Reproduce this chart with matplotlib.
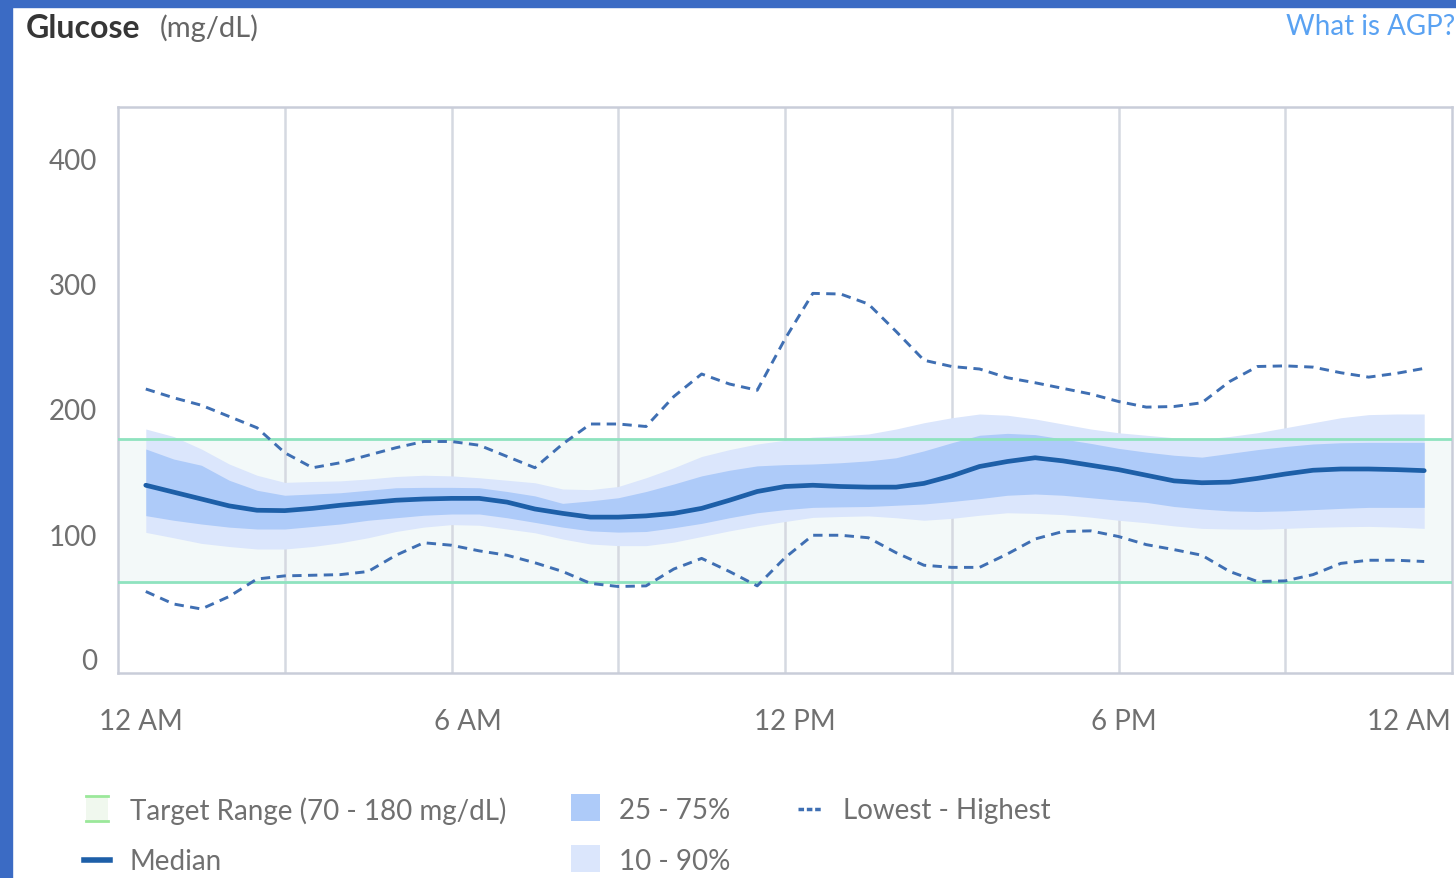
import matplotlib
matplotlib.use("Agg")
import matplotlib.pyplot as plt
import matplotlib.transforms as mtransforms
from matplotlib.patches import Rectangle
from matplotlib.lines import Line2D
import numpy as np

plt.rcParams['font.family'] = ['Lato', 'DejaVu Sans']

# hours of the day (half-hour steps)
hours = np.arange(0.5, 24.0, 0.5)

highest = [216, 209, 203, 194, 185, 165, 153, 157, 163, 169, 174, 174, 171, 162, 153, 172,
           188, 188, 186, 210, 228, 220, 215, 256, 292.5, 292, 284, 262, 239, 234, 232, 225,
           221, 216.5, 212, 206, 201.5, 202, 205, 222, 234, 234.5, 233.5, 229, 225.5, 228.5, 232.5]
lowest = [54, 44, 40, 50, 64, 66.5, 67, 67.5, 70, 83, 93, 91, 86.5, 83, 77, 70,
          60.5, 58, 58.5, 72, 80.5, 70, 58.5, 81, 99, 99, 97, 85, 75, 73.3, 73.3, 84,
          96, 102, 102.5, 98, 91.5, 87.5, 83, 70, 62, 62.5, 67.5, 76.5, 79, 79, 78]
median = [139, 133.5, 128, 122.5, 119, 118.7, 120.5, 123, 125, 127, 128, 128.5, 128.5, 125.5, 120, 116.5,
          113.5, 113.5, 114.5, 116.5, 120.5, 127, 134, 138, 139, 138, 137.5, 137.5, 140.5, 146.5, 154, 158,
          161, 158.5, 155, 151.5, 147, 142.5, 141, 141.5, 144.5, 148, 151, 152, 152, 151.5, 150.7]
p75 = [168, 160, 155, 143, 135, 131, 132, 133, 135, 137, 137.3, 137.3, 137, 134, 130.5, 124.5,
       126.5, 129, 134, 140, 146.5, 151, 154.5, 155.5, 156, 157, 158.5, 161, 166.5, 173, 179, 180.5,
       179.5, 176, 172.5, 168.5, 165.5, 163, 161.5, 164.5, 167.5, 170, 172, 173, 173.3, 173.3, 173.3]
p25 = [114.7, 111, 108, 105.5, 104, 104, 106, 108, 111, 113, 115, 116, 116, 113, 109.3, 105.5,
       102.5, 101.5, 102, 105, 108.5, 113, 117, 119.5, 121.3, 121.7, 122, 123, 124, 126, 128.3, 131,
       132, 131, 129, 127, 125.3, 122, 120, 118.5, 118, 118.5, 119.5, 120.5, 121.3, 121.3, 121.3]
p90 = [184, 178, 168, 156, 147, 141.3, 142, 142.5, 144, 146, 147, 146.5, 145, 143, 141, 136,
       135.5, 138, 145, 153, 162, 167.5, 172, 175, 177.5, 178.5, 180, 184, 189, 193, 196, 195,
       192, 188, 184, 181, 179, 177, 176, 178, 181, 185, 189, 193, 195.5, 196, 196]
p10 = [101.3, 97, 92.5, 90, 88, 88, 90, 93, 97, 102, 105.5, 107.5, 107, 104, 101, 96,
       92, 90.7, 90.7, 93.5, 98, 102.5, 106.5, 110, 113.3, 114, 114.5, 113, 111, 112.5, 115, 117,
       116.5, 115.5, 113.5, 111, 109, 106.5, 104.5, 104, 103.8, 104.5, 105.3, 105.8, 106.1, 105.5, 104.5]

# target band as drawn against the axis labels
target_low, target_high = 61.5, 176

x_ticks = [0, 6, 12, 18, 24]
x_labels = ['12 AM', '6 AM', '12 PM', '6 PM', '12 AM']
x_label_shift_px = [23, 16, 10, 5, -43]
y_ticks = [0, 100, 200, 300, 400]

c_border = '#3b6bc4'
c_target = '#8fe3bf'
c_target_fill = '#f3f9f9'
c_p90 = '#dbe6fc'
c_p75 = '#aecbf9'
c_median = '#1d5fa8'
c_dash = '#3f6fb3'
c_grid = '#d5d9e1'
c_text = '#707070'

W, H = 1456, 879
fig = plt.figure(figsize=(W / 100, H / 100), dpi=100)
fig.patch.set_facecolor('white')

ax = fig.add_axes([118 / W, 1 - 674 / H, (1452 - 118) / W, (674 - 108) / H])
ax.set_xlim(0, 24)
ax.set_ylim(-11.2, 441.6)

# target range
ax.axhspan(target_low, target_high, color=c_target_fill, zorder=0)
ax.axhline(target_low, color=c_target, lw=2, zorder=3)
ax.axhline(target_high, color=c_target, lw=2, zorder=3)

# percentile bands
ax.fill_between(hours, p10, p90, color=c_p90, lw=0, zorder=1)
ax.fill_between(hours, p25, p75, color=c_p75, lw=0, zorder=2)
ax.plot(hours, median, color=c_median, lw=3.4, solid_capstyle='round',
        solid_joinstyle='round', zorder=4)
ax.plot(hours, highest, color=c_dash, lw=2.1, dashes=(3.2, 2.2),
        dash_joinstyle='round', zorder=4)
ax.plot(hours, lowest, color=c_dash, lw=2.1, dashes=(3.2, 2.2),
        dash_joinstyle='round', zorder=4)

# vertical grid every 3 hours
for gx in range(3, 24, 3):
    ax.axvline(gx, color=c_grid, lw=1.8, zorder=0.5)

for s in ax.spines.values():
    s.set_color('#c9cdd9')
    s.set_linewidth(1.8)

ax.set_yticks(y_ticks)
ax.set_yticklabels([str(v) for v in y_ticks])
ax.set_xticks(x_ticks)
ax.set_xticklabels(x_labels)
ax.tick_params(axis='both', length=0, labelsize=20, labelcolor=c_text)
ax.tick_params(axis='y', pad=15)
ax.tick_params(axis='x', pad=25)
for lab, dx in zip(ax.get_xticklabels(), x_label_shift_px):
    lab.set_transform(lab.get_transform() + mtransforms.ScaledTranslation(dx / 100, 0, fig.dpi_scale_trans))

# blue frame
fig.add_artist(Rectangle((0, 0), 12 / W, 1, transform=fig.transFigure, color=c_border, zorder=10))
fig.add_artist(Rectangle((0, 1 - 8 / H), 1, 8 / H, transform=fig.transFigure, color=c_border, zorder=10))

# header
fig.text(26 / W, 1 - 29 / H, 'Glucose', fontsize=23, fontweight='bold', color='#363636', va='center')
fig.text(160 / W, 1 - 28 / H, '(mg/dL)', fontsize=21, color='#666666', va='center')
fig.text(1286 / W, 1 - 27 / H, 'What is AGP?', fontsize=20, color='#5aa2f2', va='center')

# legend
def fx(px):
    return px / W

def fy(py):
    return 1 - py / H

# target range icon
fig.add_artist(Rectangle((fx(86), fy(823)), 22 / W, 26 / H, transform=fig.transFigure,
                         color='#f0f8ee', lw=0))
for yy in (797, 822):
    fig.add_artist(Line2D([fx(86), fx(108)], [fy(yy), fy(yy)], transform=fig.transFigure,
                          color='#9be89a', lw=2))
fig.text(fx(130), fy(811), 'Target Range (70 - 180 mg/dL)', fontsize=20, color=c_text, va='center')

fig.add_artist(Line2D([fx(84), fx(110)], [fy(861), fy(861)], transform=fig.transFigure,
                      color=c_median, lw=4))
fig.text(fx(130), fy(862), 'Median', fontsize=20, color=c_text, va='center')

fig.add_artist(Rectangle((fx(571), fy(822)), 29 / W, 27 / H, transform=fig.transFigure,
                         color=c_p75, lw=0))
fig.text(fx(619), fy(811), '25 - 75%', fontsize=20, color=c_text, va='center')
fig.add_artist(Rectangle((fx(571), fy(873)), 29 / W, 27 / H, transform=fig.transFigure,
                         color=c_p90, lw=0))
fig.text(fx(619), fy(862), '10 - 90%', fontsize=20, color=c_text, va='center')

fig.add_artist(Line2D([fx(798), fx(822)], [fy(810), fy(810)], transform=fig.transFigure,
                      color=c_dash, lw=2.5, dashes=(1.6, 0.8)))
fig.text(fx(843), fy(811), 'Lowest - Highest', fontsize=20, color=c_text, va='center')

fig.savefig('out.png', dpi=100)
